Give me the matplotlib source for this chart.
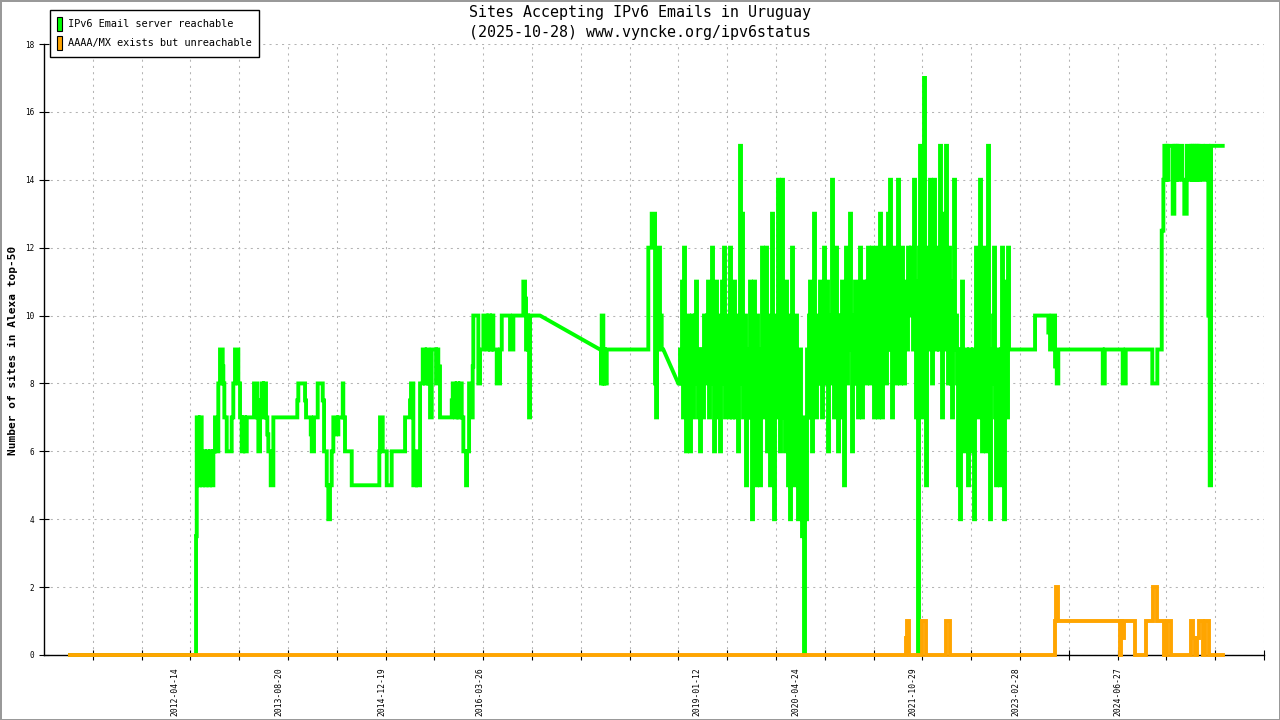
import matplotlib
matplotlib.use("Agg")
import matplotlib.pyplot as plt
from matplotlib.patches import Patch
import numpy as np
import pandas as pd

# DATA (x in decimal years)
green_early_years = [2010.926, 2012.556, 2012.565, 2012.588, 2012.607, 2012.629, 2012.650, 2012.672,
                     2012.694, 2012.715, 2012.737, 2012.759, 2012.780, 2012.801, 2012.823, 2012.844,
                     2012.866, 2012.901, 2012.909, 2012.922, 2012.953, 2013.017, 2013.038, 2013.060,
                     2013.103, 2013.125, 2013.147, 2013.168, 2013.190, 2013.212, 2013.306, 2013.349,
                     2013.362, 2013.384, 2013.406, 2013.422, 2013.435, 2013.461, 2013.478, 2013.491,
                     2013.522, 2013.556, 2013.866, 2013.879, 2013.966, 2013.979, 2014.040, 2014.053,
                     2014.082, 2014.130, 2014.195, 2014.212, 2014.247, 2014.267, 2014.289, 2014.311,
                     2014.332, 2014.376, 2014.397, 2014.454, 2014.461, 2014.483, 2014.570, 2014.927,
                     2014.936, 2014.971, 2015.023, 2015.087, 2015.260, 2015.324, 2015.337, 2015.367,
                     2015.402, 2015.415, 2015.454, 2015.489, 2015.518, 2015.540, 2015.561, 2015.583,
                     2015.605, 2015.661, 2015.674, 2015.690, 2015.712, 2015.864, 2015.877, 2015.906,
                     2015.928, 2015.949, 2015.971, 2015.993, 2016.014, 2016.049, 2016.062, 2016.088,
                     2016.122, 2016.135, 2016.143, 2016.208, 2016.230, 2016.273, 2016.317, 2016.337,
                     2016.359, 2016.381, 2016.402, 2016.446, 2016.489, 2016.511, 2016.618, 2016.661,
                     2016.790, 2016.812, 2016.825, 2016.838, 2016.851, 2016.864, 2016.877, 2017.006,
                     2017.782, 2017.795, 2017.804, 2017.825, 2017.838, 2017.847, 2017.869, 2018.407,
                     2018.451, 2018.494, 2018.507, 2018.520, 2018.536, 2018.558, 2018.580, 2018.601,
                     2018.795]
green_early_vals = [0, 3.5, 7, 5, 7, 5, 6, 5,
                    6, 5, 6, 5, 6, 7, 6, 8,
                    9, 8.5, 8, 7, 6, 7, 8, 9,
                    8, 7, 6, 7, 6, 7, 8, 7,
                    6, 7.5, 8, 7, 8, 7, 6.5, 6,
                    5, 7, 7.5, 8, 7.5, 7, 6.5, 6,
                    7, 8, 7.5, 6, 5, 4, 5, 6,
                    7, 6.5, 7, 8, 7, 6, 5, 6,
                    7, 6, 5, 6, 7, 7.5, 8, 5,
                    6, 5, 8, 9, 8, 9, 8, 7,
                    9, 8, 9, 8.5, 7, 7.5, 8, 7,
                    8, 7, 8, 7, 6, 5, 6, 8,
                    7, 8.5, 10, 8, 9, 10, 9, 10,
                    9, 10, 9, 8, 9, 10, 9, 10,
                    11, 10.5, 9, 10, 9, 7, 10, 10,
                    9, 8, 10, 8, 9, 8, 9, 12,
                    13, 8, 7, 9, 12, 10, 9, 9,
                    8]
green_ramps = [2017.006, 2018.601]

# dense period 2018-2023, one reading every ~4.7 days
dense_start = 2018.817
dense_step = 0.012937
green_dense_vals = [
    9, 8, 11, 7, 12, 8, 6, 10, 10, 7,     6, 9, 10, 7, 8, 10, 11, 8, 7, 9,
    6, 9, 9, 7, 10, 8, 8, 10, 11, 7,      10, 8, 12, 9, 6, 10, 11, 7, 8, 10,
    6, 9, 11, 8, 12, 7, 8, 10, 10, 7,     12, 8, 7, 10, 11, 7, 9, 10, 6, 9,
    15, 8, 13, 7, 7, 10, 5, 9, 9, 7,      11, 7, 4, 10, 11, 8, 5, 10, 9, 6,
    5, 9, 12, 7, 7, 10, 12, 6, 8, 10,     5, 9, 13, 6, 4, 10, 10, 7, 14, 8,
    6, 10, 14, 7, 9, 6, 11, 8, 5, 10,     4, 9, 12, 6, 5, 10, 10, 6, 4, 8,
    9, 5, 3.5, 7, 0, 6, 4, 9, 7, 10,      11, 7, 6, 10, 13, 8, 7, 10, 10, 8,
    11, 8, 7, 10, 12, 9, 8, 11, 6, 9,     10, 8, 14, 9, 7, 10, 12, 8, 6, 10,
    7, 10, 11, 8, 5, 10, 12, 8, 11, 9,    13, 9, 6, 10, 8, 11, 11, 8, 7, 10,
    12, 9, 7, 11, 11, 8, 8, 11, 12, 9,    8, 11, 12, 9, 7, 10, 12, 8, 7, 10,
    13, 9, 7, 11, 12, 9, 8, 11, 13, 9,    14, 9, 7, 11, 12, 8, 8, 11, 14, 10,
    8, 11, 12, 9, 8, 11, 11, 9, 12, 10,   10, 12, 12, 9, 14, 10, 7, 11, 0, 12,
    15, 9, 7, 12, 17, 9, 5, 11, 12, 9,    14, 10, 8, 12, 14, 9, 9, 12, 12, 9,
    15, 10, 7, 11, 13, 9, 15, 10, 8, 12,  11, 8, 7, 10, 14, 9, 10, 8, 5, 9,
    4, 9, 11, 7, 6, 9, 9, 7, 5, 9,        9, 7, 6, 9, 4, 8, 12, 8, 7, 10,
    14, 8, 6, 10, 12, 8, 6, 9, 15, 9,     4, 8, 8, 10, 12, 7, 5, 9, 9, 7,
    5, 9, 12, 7, 4, 9, 11, 7, 12, 9]

green_late_years = [2023.086, 2023.410, 2023.582, 2023.604, 2023.626, 2023.669, 2023.691, 2023.711,
                    2024.286, 2024.312, 2024.544, 2024.583, 2024.927, 2024.992, 2025.049, 2025.070,
                    2025.083, 2025.095, 2025.108, 2025.121, 2025.134, 2025.191, 2025.212, 2025.225,
                    2025.238, 2025.251, 2025.264, 2025.312, 2025.341, 2025.372, 2025.419, 2025.432,
                    2025.445, 2025.458, 2025.471, 2025.484, 2025.497, 2025.510, 2025.523, 2025.536,
                    2025.579, 2025.618, 2025.652, 2025.670, 2025.687, 2025.838]
green_late_vals = [9, 10, 9.5, 9, 10, 8.5, 8, 9,
                   8, 9, 8, 9, 8, 9, 12.5, 14,
                   15, 14, 15, 14, 15, 13, 15, 14,
                   15, 14, 15, 14, 13, 15, 14, 15,
                   14, 15, 14, 15, 14, 15, 14, 15,
                   14, 15, 10, 5, 15, 15]

orange_years = [2010.926, 2021.741, 2021.754, 2021.780, 2021.948, 2022.000, 2022.258, 2022.310,
                2023.669, 2023.682, 2023.708, 2024.510, 2024.522, 2024.535, 2024.561, 2024.704,
                2024.846, 2024.930, 2024.982, 2025.079, 2025.111, 2025.164, 2025.428, 2025.454,
                2025.480, 2025.506, 2025.525, 2025.584, 2025.609, 2025.661, 2025.838]
orange_vals = [0, 0.5, 1, 0, 1, 0, 1, 0,
               1, 2, 1, 0, 1, 0.5, 1, 0,
               1, 2, 1, 0, 1, 0, 1, 0.5,
               0, 0.5, 1, 0, 1, 0, 0]

label_dates = ['2012-04-14', '2013-08-20', '2014-12-19', '2016-03-26', '2019-01-12',
               '2020-04-24', '2021-10-29', '2023-02-28', '2024-06-27']
x_min, x_max = 2010.589, 2026.372
y_ticks = list(range(0, 19, 2))

GREEN = '#00ff00'
ORANGE = '#ffa500'
MONO = 'DejaVu Sans Mono'


def to_year(s):
    d = pd.Timestamp(s)
    n = 366 if d.is_leap_year else 365
    return d.year + (d.dayofyear - 1) / n


def step_path(xs, ys, ramps=()):
    # horizontal-then-vertical steps, except where readings are missing (straight ramp)
    px, py = [], []
    for i in range(len(xs)):
        px.append(xs[i])
        py.append(ys[i])
        if i + 1 < len(xs) and not any(abs(xs[i] - r) < 1e-6 for r in ramps):
            px.append(xs[i + 1])
            py.append(ys[i])
    return px, py


dense_years = list(dense_start + dense_step * np.arange(len(green_dense_vals)))
green_years = green_early_years + dense_years + green_late_years
green_vals = green_early_vals + green_dense_vals + green_late_vals

fig = plt.figure(figsize=(12.8, 7.2), dpi=100, edgecolor='#999999', linewidth=2)
ax = fig.add_axes([44 / 1280, 1 - 655 / 720, 1220 / 1280, 611 / 720])

gx, gy = step_path(green_years, green_vals, green_ramps)
ax.plot(gx, gy, color=GREEN, lw=2.8, solid_joinstyle='miter', zorder=3, clip_on=False)
ox, oy = step_path(orange_years, orange_vals)
ax.plot(ox, oy, color=ORANGE, lw=2.8, solid_joinstyle='miter', zorder=4, clip_on=False)

ax.set_xlim(x_min, x_max)
ax.set_ylim(0, 18)

# x axis: date labels, plus unlabeled ticks dividing the range in 25
ax.set_xticks([to_year(d) for d in label_dates])
ax.set_xticklabels(label_dates, rotation=90, fontsize=5.8, family=MONO, va='top')
ax.tick_params(axis='x', which='major', length=0, pad=8.5)
ax.set_xticks(np.linspace(x_min, x_max, 26)[1:], minor=True)
ax.tick_params(axis='x', which='minor', direction='inout', length=6.5, width=0.8)

ax.set_yticks(y_ticks)
ax.set_yticklabels([str(v) for v in y_ticks], fontsize=5.5, family=MONO)
ax.tick_params(axis='y', direction='inout', length=6.5, width=0.8, pad=4)

ax.grid(True, axis='x', which='minor', color='#b4b4b4', lw=0.75, linestyle=(0, (2, 4)))
ax.grid(True, axis='y', which='major', color='#b4b4b4', lw=0.75, linestyle=(0, (2, 4)))
ax.set_axisbelow(True)

for side in ['top', 'right']:
    ax.spines[side].set_visible(False)
for side in ['left', 'bottom']:
    ax.spines[side].set_linewidth(1.0)
    ax.spines[side].set_zorder(2)

fig.text(0.5, 1 - 13 / 720, 'Sites Accepting IPv6 Emails in Uruguay',
         ha='center', va='center', fontsize=10.8, family=MONO)
fig.text(0.5, 1 - 32 / 720, '(2025-10-28) www.vyncke.org/ipv6status',
         ha='center', va='center', fontsize=10.8, family=MONO)
fig.text(13 / 1280, 1 - 350 / 720, 'Number of sites in Alexa top-50', rotation=90,
         ha='center', va='center', fontsize=8, family=MONO, fontweight='bold')

handles = [Patch(facecolor=GREEN, edgecolor='black', lw=0.8, label='IPv6 Email server reachable'),
           Patch(facecolor=ORANGE, edgecolor='black', lw=0.8, label='AAAA/MX exists but unreachable')]
leg = fig.legend(handles=handles, loc='upper left', bbox_to_anchor=(50 / 1280, 1 - 10 / 720),
                 prop={'family': MONO, 'size': 7.4}, fancybox=False, framealpha=1,
                 edgecolor='black', handlelength=0.5, handleheight=1.7, handletextpad=0.55,
                 borderpad=0.7, labelspacing=0.5, borderaxespad=0)
leg.get_frame().set_linewidth(1.0)

fig.savefig('out.png', dpi=100)
